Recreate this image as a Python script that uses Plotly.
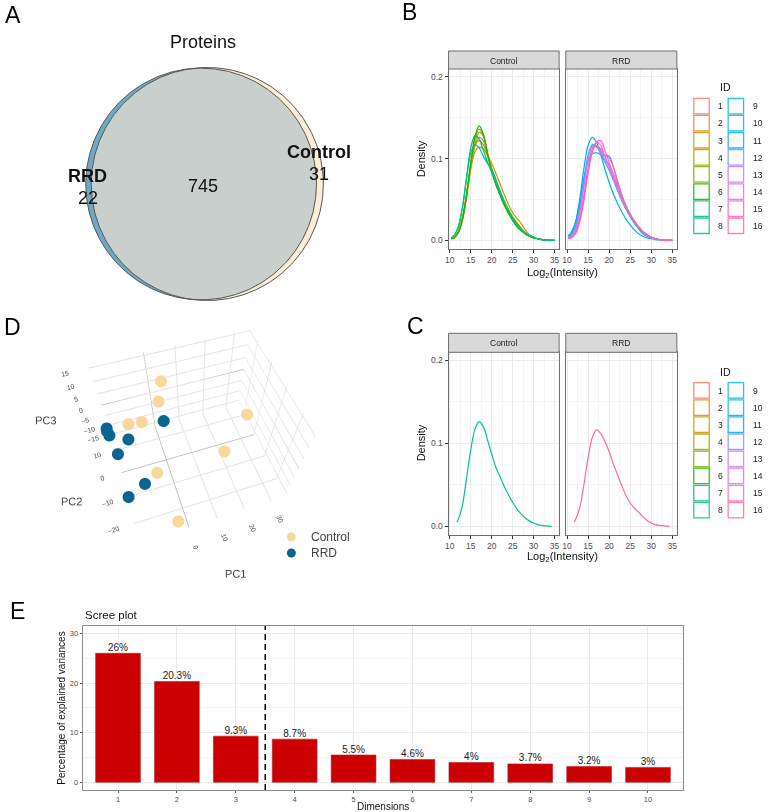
import math
import numpy as np
import plotly.graph_objects as go

# ---------------- DATA ----------------
# Panel A: Venn counts
venn_names = ["RRD", "Control"]
venn_unique = [22, 31]
venn_shared = 745

# Panel B: per-sample density curves (Log2 intensity grid)
dens_x = [10.3, 11, 12, 13, 14, 15, 16, 17, 18, 19, 20, 21, 22, 23, 24, 25,
          26, 27, 28, 29, 30, 31, 32, 33, 34, 35]
control_ids = [1, 2, 3, 4, 5, 6, 7, 8]
rrd_ids = [9, 10, 11, 12, 13, 14, 15, 16]
dens_control = [
    [0.002, 0.004, 0.010, 0.026, 0.055, 0.090, 0.115, 0.126, 0.122, 0.105, 0.088, 0.072, 0.059, 0.047, 0.037, 0.028, 0.020, 0.014, 0.009, 0.006, 0.004, 0.002, 0.001, 0.0005, 0.0002, 0],
    [0.002, 0.003, 0.009, 0.024, 0.052, 0.088, 0.118, 0.132, 0.128, 0.108, 0.087, 0.070, 0.057, 0.045, 0.035, 0.027, 0.021, 0.015, 0.009, 0.005, 0.003, 0.002, 0.001, 0.0005, 0.0002, 0],
    [0.002, 0.004, 0.011, 0.028, 0.056, 0.088, 0.108, 0.114, 0.112, 0.104, 0.094, 0.082, 0.069, 0.056, 0.044, 0.034, 0.027, 0.021, 0.013, 0.007, 0.004, 0.002, 0.001, 0.0005, 0.0002, 0],
    [0.002, 0.004, 0.010, 0.027, 0.057, 0.092, 0.116, 0.122, 0.117, 0.103, 0.088, 0.073, 0.060, 0.048, 0.038, 0.029, 0.022, 0.015, 0.010, 0.006, 0.004, 0.002, 0.001, 0.0005, 0.0002, 0],
    [0.002, 0.003, 0.009, 0.025, 0.055, 0.093, 0.124, 0.136, 0.128, 0.106, 0.085, 0.069, 0.056, 0.044, 0.034, 0.025, 0.018, 0.012, 0.008, 0.005, 0.003, 0.002, 0.001, 0.0005, 0.0002, 0],
    [0.002, 0.003, 0.009, 0.025, 0.056, 0.095, 0.127, 0.140, 0.130, 0.106, 0.084, 0.068, 0.055, 0.043, 0.033, 0.024, 0.017, 0.012, 0.008, 0.005, 0.003, 0.002, 0.001, 0.0005, 0.0002, 0],
    [0.003, 0.006, 0.016, 0.040, 0.078, 0.113, 0.128, 0.124, 0.110, 0.096, 0.083, 0.070, 0.058, 0.047, 0.037, 0.028, 0.020, 0.014, 0.009, 0.006, 0.004, 0.002, 0.001, 0.0005, 0.0002, 0],
    [0.003, 0.006, 0.016, 0.039, 0.075, 0.107, 0.117, 0.113, 0.103, 0.094, 0.087, 0.075, 0.061, 0.048, 0.037, 0.027, 0.019, 0.013, 0.009, 0.006, 0.004, 0.002, 0.001, 0.0005, 0.0002, 0],
]
dens_rrd = [
    [0.004, 0.007, 0.017, 0.040, 0.075, 0.104, 0.117, 0.115, 0.106, 0.096, 0.086, 0.074, 0.061, 0.049, 0.038, 0.029, 0.021, 0.015, 0.010, 0.006, 0.004, 0.002, 0.001, 0.0005, 0.0002, 0],
    [0.006, 0.010, 0.022, 0.045, 0.075, 0.097, 0.106, 0.107, 0.105, 0.104, 0.103, 0.090, 0.072, 0.055, 0.041, 0.030, 0.021, 0.014, 0.008, 0.005, 0.003, 0.002, 0.001, 0.0005, 0.0002, 0],
    [0.005, 0.009, 0.022, 0.050, 0.088, 0.116, 0.126, 0.120, 0.105, 0.087, 0.071, 0.057, 0.045, 0.035, 0.026, 0.019, 0.013, 0.008, 0.005, 0.003, 0.002, 0.001, 0.0005, 0.0002, 0.0001, 0],
    [0.003, 0.006, 0.015, 0.036, 0.068, 0.100, 0.115, 0.116, 0.110, 0.098, 0.086, 0.074, 0.062, 0.050, 0.039, 0.030, 0.022, 0.016, 0.010, 0.006, 0.004, 0.002, 0.001, 0.0005, 0.0002, 0],
    [0.003, 0.005, 0.013, 0.033, 0.066, 0.099, 0.115, 0.114, 0.107, 0.099, 0.093, 0.082, 0.067, 0.053, 0.041, 0.031, 0.023, 0.016, 0.011, 0.007, 0.004, 0.002, 0.001, 0.0005, 0.0002, 0],
    [0.002, 0.004, 0.010, 0.026, 0.054, 0.088, 0.112, 0.120, 0.116, 0.103, 0.090, 0.077, 0.064, 0.052, 0.041, 0.031, 0.023, 0.016, 0.011, 0.007, 0.004, 0.002, 0.001, 0.0005, 0.0002, 0],
    [0.002, 0.003, 0.008, 0.022, 0.048, 0.082, 0.108, 0.120, 0.122, 0.110, 0.095, 0.080, 0.066, 0.053, 0.042, 0.032, 0.024, 0.017, 0.011, 0.007, 0.004, 0.002, 0.001, 0.0005, 0.0002, 0],
    [0.002, 0.004, 0.010, 0.026, 0.054, 0.087, 0.110, 0.116, 0.112, 0.104, 0.101, 0.090, 0.072, 0.056, 0.043, 0.032, 0.024, 0.017, 0.011, 0.007, 0.004, 0.002, 0.001, 0.0005, 0.0002, 0],
]

# Panel C: group mean density curves
mean_x = [11.7, 12, 13, 14, 15, 16, 17, 18, 19, 20, 21, 22, 23, 24, 25, 26,
          27, 28, 29, 30, 31, 32, 33, 34.3]
mean_control = [0.005, 0.008, 0.025, 0.058, 0.092, 0.117, 0.126, 0.120, 0.104, 0.087, 0.071, 0.060,
                0.048, 0.038, 0.029, 0.021, 0.015, 0.010, 0.0065, 0.004, 0.002, 0.001, 0.0005, 0.0]
mean_rrd = [0.005, 0.008, 0.022, 0.050, 0.083, 0.107, 0.116, 0.112, 0.102, 0.090, 0.075, 0.062,
            0.049, 0.037, 0.028, 0.022, 0.017, 0.012, 0.007, 0.004, 0.002, 0.001, 0.0004, 0.0]

# Panel D: PCA scores
pca_control_pc1 = [3.0, 0.7, -10.1, -5.8, 25.6, 17.5, -5.3, -3.3]
pca_control_pc2 = [8.7, 4.8, 4.7, 3.5, -7.8, -11.6, -9.8, -26.6]
pca_control_pc3 = [10.8, 7.0, 0.9, 1.6, 5.9, -4.1, -7.9, -10.8]
pca_rrd_pc1 = [-16.9, -16.8, -16.9, -11.4, 1.5, -15.9, -10.1, -16.4]
pca_rrd_pc2 = [2.5, 2.2, 0.5, 2.7, 4.3, -2.0, -11.4, -13.0]
pca_rrd_pc3 = [4.0, 1.0, 5.0, -3.8, -1.5, -3.5, -9.6, -11.8]

# Panel E: scree plot
scree_dims = [1, 2, 3, 4, 5, 6, 7, 8, 9, 10]
scree_var = [26.0, 20.3, 9.3, 8.7, 5.5, 4.6, 4.0, 3.7, 3.2, 3.0]

# ---------------- HELPERS ----------------
W, H = 768, 812
FONT = "Liberation Sans, Arial, sans-serif"


def px(x):
    return x / W


def py(y):
    return 1 - y / H


def hcl_hex(h, c=100.0, l=65.0):
    hr = math.radians(h)
    U, V = c * math.cos(hr), c * math.sin(hr)
    Xn, Yn, Zn = 95.047, 100.0, 108.883
    Y = Yn * ((l + 16) / 116) ** 3 if l > 8 else Yn * l / 903.3
    t = Xn + 15 * Yn + 3 * Zn
    un, vn = 4 * Xn / t, 9 * Yn / t
    Q = U / (13 * l) + un
    R = V / (13 * l) + vn
    X = 9.0 * Y * Q / (4.0 * R)
    Z = -X / 3.0 - 5.0 * Y + 3.0 * Y / R
    X, Y, Z = X / 100, Y / 100, Z / 100
    rgb = [3.240479 * X - 1.537150 * Y - 0.498535 * Z,
           -0.969256 * X + 1.875992 * Y + 0.041556 * Z,
           0.055648 * X - 0.204043 * Y + 1.057311 * Z]
    out = []
    for v in rgb:
        v = 12.92 * v if v <= 0.0031308 else 1.055 * v ** (1 / 2.4) - 0.055
        out.append(int(round(min(max(v, 0), 1) * 255)))
    return "#%02X%02X%02X" % tuple(out)


n_ids = 16
id_colors = [hcl_hex(15 + 360.0 * i / n_ids) for i in range(n_ids)]

fig = go.Figure()
shapes = []
annotations = []


def ann(x, y, text, size, color="#000", bold=False, xanchor="center", textangle=0, yanchor="middle"):
    annotations.append(dict(
        x=px(x), y=py(y), xref="paper", yref="paper", text=("<b>%s</b>" % text) if bold else text,
        showarrow=False, xanchor=xanchor, yanchor=yanchor, textangle=textangle,
        font=dict(family=FONT, size=size, color=color)))


# ---------------- PANEL A: Venn ----------------
tot_rrd = venn_unique[0] + venn_shared
tot_ctrl = venn_unique[1] + venn_shared
k = 116.5 / math.sqrt(tot_ctrl)
r1 = k * math.sqrt(tot_rrd)
r2 = k * math.sqrt(tot_ctrl)
target = venn_shared * math.pi * k * k


def lens(d):
    a1 = r1 * r1 * math.acos((d * d + r1 * r1 - r2 * r2) / (2 * d * r1))
    a2 = r2 * r2 * math.acos((d * d + r2 * r2 - r1 * r1) / (2 * d * r2))
    a3 = 0.5 * math.sqrt((-d + r1 + r2) * (d + r1 - r2) * (d - r1 + r2) * (d + r1 + r2))
    return a1 + a2 - a3


lo, hi = abs(r2 - r1) + 1e-6, r1 + r2 - 1e-6
for _ in range(80):
    mid = (lo + hi) / 2
    if lens(mid) > target:
        lo = mid
    else:
        hi = mid
d = (lo + hi) / 2
cxm, cy = 202.0, 184.0
c1x, c2x = cxm - d / 2, cxm + d / 2
th = np.linspace(0, 2 * np.pi, 400)
fig.add_trace(go.Scatter(x=c1x + r1 * np.cos(th), y=cy + r1 * np.sin(th), mode="lines", fill="toself",
                         fillcolor="#6DA9C5", line=dict(width=0), xaxis="x", yaxis="y",
                         showlegend=False, hoverinfo="skip"))
fig.add_trace(go.Scatter(x=c2x + r2 * np.cos(th), y=cy + r2 * np.sin(th), mode="lines", fill="toself",
                         fillcolor="#FAEFD4", line=dict(width=0), xaxis="x", yaxis="y",
                         showlegend=False, hoverinfo="skip"))
a = (d * d + r1 * r1 - r2 * r2) / (2 * d)
h = math.sqrt(r1 * r1 - a * a)
t1 = math.atan2(h, a)
t2 = math.atan2(h, d - a)
arc1 = np.linspace(-t1, t1, 200)
arc2 = np.linspace(math.pi - t2, math.pi + t2, 200)
lx = np.concatenate([c1x + r1 * np.cos(arc1), c2x + r2 * np.cos(arc2)])
ly = np.concatenate([cy + r1 * np.sin(arc1), cy + r2 * np.sin(arc2)])
fig.add_trace(go.Scatter(x=lx, y=ly, mode="lines", fill="toself", fillcolor="#C8CFCC",
                         line=dict(width=0), xaxis="x", yaxis="y", showlegend=False, hoverinfo="skip"))
for cx_, r_ in [(c1x, r1), (c2x, r2)]:
    fig.add_trace(go.Scatter(x=cx_ + r_ * np.cos(th), y=cy + r_ * np.sin(th), mode="lines",
                             line=dict(width=1, color="#555555"), xaxis="x", yaxis="y",
                             showlegend=False, hoverinfo="skip"))

ann(201, 42, "Proteins", 18, "#111")
ann(85, 176, venn_names[0], 18, "#111", bold=True)
ann(85, 198, str(venn_unique[0]), 18, "#111")
ann(201, 186, str(venn_shared), 18, "#111")
ann(317, 152, venn_names[1], 18, "#111", bold=True)
ann(317, 174, str(venn_unique[1]), 18, "#111")

# ---------------- PANELS B & C: density ----------------
tickfont = dict(family=FONT, size=8.5, color="#4D4D4D")
grid_major = "#EBEBEB"
grid_minor = "#F4F4F4"
border = "#6E6E6E"
xr = [9.7, 36.1]
yr = [-0.0105, 0.2095]


def dens_axes(xn, yn, x0, x1, y0, y1, show_y):
    xa = dict(domain=[px(x0), px(x1)], anchor="y%d" % yn, range=xr, tickvals=[10, 15, 20, 25, 30, 35],
              ticks="outside", ticklen=3, tickcolor="#333", tickfont=tickfont, showgrid=True,
              gridcolor=grid_major, gridwidth=1, zeroline=False, showline=True, linecolor=border,
              mirror=True, linewidth=1, minor=dict(dtick=2.5, tick0=10, showgrid=True, gridcolor=grid_minor),
              fixedrange=True)
    ya = dict(domain=[py(y1), py(y0)], anchor="x%d" % xn, range=yr, tickvals=[0, 0.1, 0.2],
              ticktext=["0.0", "0.1", "0.2"], ticks="outside" if show_y else "", ticklen=3,
              tickcolor="#333", showticklabels=show_y, tickfont=tickfont, showgrid=True,
              gridcolor=grid_major, zeroline=False, showline=True, linecolor=border, mirror=True,
              linewidth=1, minor=dict(dtick=0.05, tick0=0, showgrid=True, gridcolor=grid_minor),
              fixedrange=True)
    return xa, ya


layout_axes = {}
panels = {
    "Bc": (2, 447.3, 558.3, 51, 69, 249, True),
    "Br": (3, 565.0, 676.5, 51, 69, 249, False),
    "Cc": (4, 447.3, 558.3, 333.3, 352.3, 535, True),
    "Cr": (5, 565.0, 676.5, 333.3, 352.3, 535, False),
}
for key, (n, x0, x1, s0, s1, yb, show_y) in panels.items():
    xa, ya = dens_axes(n, n, x0, x1, s1, yb, show_y)
    layout_axes["xaxis%d" % n] = xa
    layout_axes["yaxis%d" % n] = ya
    shapes.append(dict(type="rect", xref="paper", yref="paper", x0=px(x0), x1=px(x1), y0=py(s1), y1=py(s0),
                       fillcolor="#D9D9D9", line=dict(color=border, width=1), layer="above"))
    ann((x0 + x1) / 2, (s0 + s1) / 2 + 0.5, "Control" if key.endswith("c") else "RRD", 8.5, "#1A1A1A")

for i, ys in enumerate(dens_control):
    fig.add_trace(go.Scatter(x=dens_x, y=ys, mode="lines", line=dict(color=id_colors[control_ids[i] - 1],
                             width=1.2, shape="spline", smoothing=0.9), xaxis="x2", yaxis="y2",
                             showlegend=False, hoverinfo="skip"))
for i, ys in enumerate(dens_rrd):
    fig.add_trace(go.Scatter(x=dens_x, y=ys, mode="lines", line=dict(color=id_colors[rrd_ids[i] - 1],
                             width=1.2, shape="spline", smoothing=0.9), xaxis="x3", yaxis="y3",
                             showlegend=False, hoverinfo="skip"))
fig.add_trace(go.Scatter(x=mean_x, y=mean_control, mode="lines",
                         line=dict(color=id_colors[control_ids[-1] - 1], width=1.2, shape="spline", smoothing=0.9),
                         xaxis="x4", yaxis="y4", showlegend=False, hoverinfo="skip"))
fig.add_trace(go.Scatter(x=mean_x, y=mean_rrd, mode="lines",
                         line=dict(color=id_colors[rrd_ids[-1] - 1], width=1.2, shape="spline", smoothing=0.9),
                         xaxis="x5", yaxis="y5", showlegend=False, hoverinfo="skip"))

for (ytitle, xtitle_y, id_y, box_top) in [(159, 272.5, 87.3, 98.3), (443, 556.5, 371.7, 382.7)]:
    ann(420, ytitle, "Density", 11, "#111", textangle=-90)
    ann(562, xtitle_y, "Log<sub>2</sub>(Intensity)", 11, "#111")
    ann(725.5, id_y, "ID", 10.5, "#111")
    for i in range(n_ids):
        col, row = i // 8, i % 8
        bx = 693.5 + col * 34.5
        by = box_top + row * 17.1
        shapes.append(dict(type="rect", xref="paper", yref="paper", x0=px(bx), x1=px(bx + 15.5),
                           y0=py(by + 15.5), y1=py(by), line=dict(color=id_colors[i], width=1.3),
                           fillcolor="rgba(255,255,255,0)", opacity=0.85))
        ann(bx + 22.5, by + 8, str(i + 1), 8.5, "#1A1A1A", xanchor="left")

# ---------------- PANEL D: 3D PCA ----------------
col_ctrl = "#F9D99B"
col_rrd = "#0B6591"
fig.add_trace(go.Scatter3d(x=pca_control_pc1, y=pca_control_pc2, z=pca_control_pc3, mode="markers",
                           marker=dict(size=7, color=col_ctrl), name="Control", showlegend=False,
                           hoverinfo="skip", scene="scene"))
fig.add_trace(go.Scatter3d(x=pca_rrd_pc1, y=pca_rrd_pc2, z=pca_rrd_pc3, mode="markers",
                           marker=dict(size=7, color=col_rrd), name="RRD", showlegend=False,
                           hoverinfo="skip", scene="scene"))
ax3 = dict(showbackground=False, gridcolor="#E3E3E3", zerolinecolor="#A8A8A8", showspikes=False,
           tickfont=dict(family=FONT, size=9, color="#444"), showline=False, ticks="")
zoom_k = 300.0 / 260.0
scene = dict(
    domain=dict(x=[px(9), px(375)], y=[py(586), py(286)]),
    xaxis=dict(ax3, title=dict(text="PC1", font=dict(family=FONT, size=11, color="#444")),
               range=[-17, 35.4], tickvals=[0, 10, 20, 30]),
    yaxis=dict(ax3, title=dict(text="PC2", font=dict(family=FONT, size=11, color="#444")),
               range=[-27, 16], tickvals=[-20, -10, 0, 10]),
    zaxis=dict(ax3, title=dict(text="PC3", font=dict(family=FONT, size=11, color="#444")),
               range=[-17, 16], tickvals=[-15, -10, -5, 0, 5, 10, 15]),
    aspectmode="manual", aspectratio=dict(x=1.15, y=0.95, z=0.86),
    camera=dict(eye=dict(x=-0.39 * zoom_k, y=-1.165 * zoom_k, z=1.86 * zoom_k),
                up=dict(x=0, y=0, z=1), center=dict(x=0, y=0, z=0)),
    bgcolor="rgba(0,0,0,0)",
)
for name, colr, yy in [("Control", col_ctrl, 537), ("RRD", col_rrd, 553)]:
    shapes.append(dict(type="circle", xref="paper", yref="paper", x0=px(285), x1=px(294),
                       y0=py(yy + 4.5), y1=py(yy - 4.5), fillcolor=colr, line=dict(width=0)))
    ann(307, yy, name, 12, "#444", xanchor="left")

# ---------------- PANEL E: scree ----------------
fig.add_trace(go.Bar(x=scree_dims, y=scree_var, width=0.76, marker=dict(color="#CC0000",
                     line=dict(color="#B22222", width=0.6)), xaxis="x6", yaxis="y6",
                     showlegend=False, hoverinfo="skip"))
fig.add_trace(go.Scatter(x=scree_dims, y=scree_var, mode="text", text=["%g%%" % v for v in scree_var],
                         textposition="top center", textfont=dict(family=FONT, size=10, color="#222"),
                         xaxis="x6", yaxis="y6", showlegend=False, hoverinfo="skip", cliponaxis=False))
efont = dict(family=FONT, size=7.5, color="#4D4D4D")
layout_axes["xaxis6"] = dict(domain=[px(80), px(683)], anchor="y6", range=[0.4, 10.6], tickvals=scree_dims,
                             ticks="outside", ticklen=2, tickcolor="#555", tickfont=efont, showgrid=True,
                             gridcolor=grid_major, zeroline=False, showline=True, linecolor="#8C8C8C",
                             mirror=True, linewidth=1.2, fixedrange=True)
layout_axes["yaxis6"] = dict(domain=[py(790), py(626)], anchor="x6", range=[-1.55, 31.5],
                             tickvals=[0, 10, 20, 30], ticks="outside", ticklen=2, tickcolor="#555",
                             tickfont=efont, showgrid=True, gridcolor=grid_major, zeroline=False,
                             showline=True, linecolor="#8C8C8C", mirror=True, linewidth=1.2,
                             minor=dict(dtick=5, tick0=0, showgrid=True, gridcolor=grid_minor), fixedrange=True)
shapes.append(dict(type="line", xref="x6", yref="y6 domain", x0=3.5, x1=3.5, y0=0, y1=1,
                   line=dict(color="#000", width=1.5, dash="6px,4px")))
ann(80, 615, "Scree plot", 11.5, "#111", xanchor="left")
ann(58, 708, "Percentage of explained variances", 10, "#111", textangle=-90)
ann(381.5, 806.5, "Dimensions", 10, "#111")

# ---------------- PANEL LETTERS ----------------
ann(10, 15, "A", 23, "#000")
ann(408, 12, "B", 23, "#000")
ann(414, 326, "C", 23, "#000")
ann(10, 327, "D", 23, "#000")
ann(15, 611, "E", 23, "#000")

fig.update_layout(
    width=W, height=H, margin=dict(l=0, r=0, t=0, b=0), autosize=False,
    paper_bgcolor="white", plot_bgcolor="white", showlegend=False,
    font=dict(family=FONT),
    xaxis=dict(domain=[0, px(400)], range=[0, 400], visible=False, fixedrange=True),
    yaxis=dict(domain=[py(330), 1], range=[330, 0], visible=False, fixedrange=True, anchor="x"),
    scene=scene, shapes=shapes, annotations=annotations,
    **layout_axes,
)
fig.write_html("out.html", config={"displayModeBar": False})
